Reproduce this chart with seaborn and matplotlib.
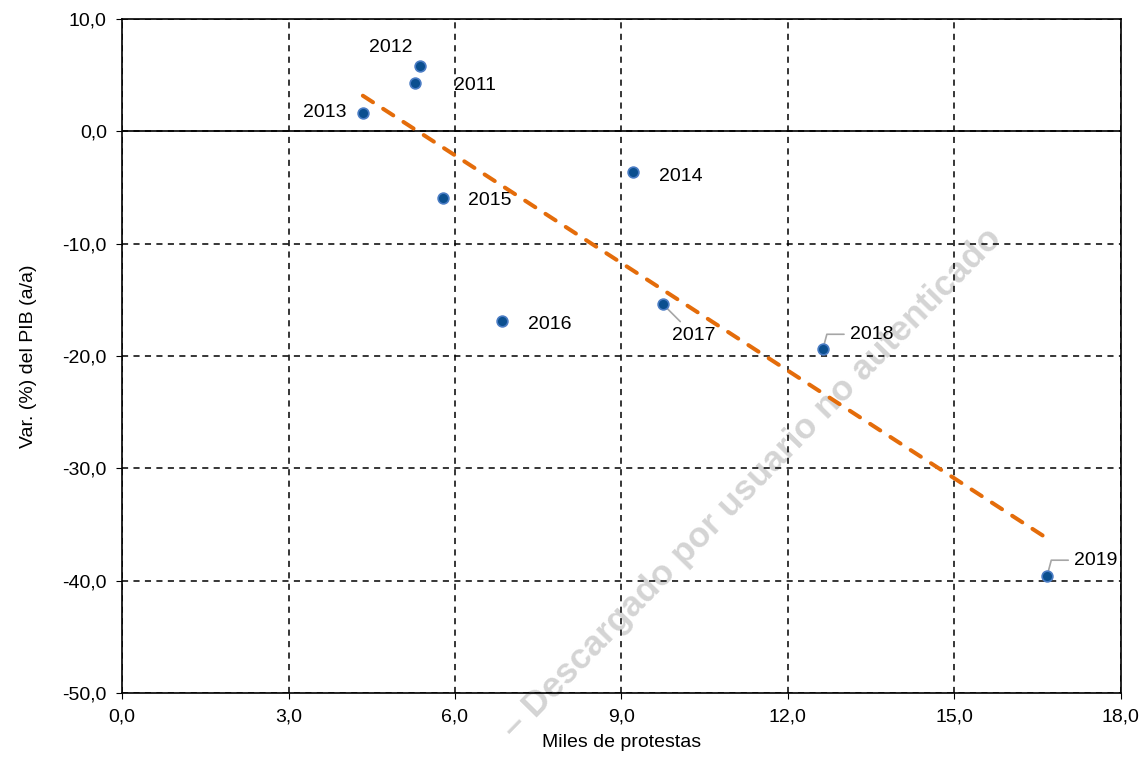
import numpy as np
import pandas as pd
import seaborn as sns
import matplotlib.pyplot as plt
from matplotlib.ticker import FuncFormatter, MultipleLocator

# datos
anios = ["2011", "2012", "2013", "2014", "2015", "2016", "2017", "2018", "2019"]
protestas = [5.28, 5.37, 4.34, 9.21, 5.78, 6.85, 9.75, 12.63, 16.67]
var_pib = [4.3, 5.8, 1.6, -3.6, -5.9, -16.9, -15.4, -19.4, -39.6]

# posicion de las etiquetas (pixeles respecto al punto)
offsets = {
    "2011": (60, -2), "2012": (-29, 19), "2013": (-38, 1), "2014": (48, -5),
    "2015": (47, -3), "2016": (48, -3), "2017": (31, -31), "2018": (49, 15),
    "2019": (49, 16),
}
con_linea = ["2017", "2018", "2019"]

dados = pd.DataFrame({"anio": anios, "protestas": protestas, "pib": var_pib})

sns.set_style("white")
plt.rcParams["font.family"] = ["Liberation Sans", "DejaVu Sans"]
plt.rcParams["text.color"] = "black"
plt.rcParams["axes.labelcolor"] = "black"
fs = 14

fig = plt.figure(figsize=(11.46, 7.57), dpi=100)
ax = fig.add_axes([0.1065, 0.0845, 0.8715, 0.8904])

# marca de agua
ax.text(0.656, 0.362, "\u2013 Descargado por usuario no autenticado",
        transform=fig.transFigure, rotation=45.7, ha="center", va="center",
        fontsize=25.5, fontweight="bold", color="#D4D4D4", zorder=1)

sns.regplot(data=dados, x="protestas", y="pib", ax=ax, scatter=False, ci=None,
            line_kws=dict(color="#E46C0A", lw=2.9, ls=(0, (3, 3)),
                          dash_capstyle="round", zorder=4))
sns.scatterplot(data=dados, x="protestas", y="pib", ax=ax, s=60,
                color="#0B4F8F", edgecolor="#4A7CC4", linewidth=1.2, zorder=5)

for a, x, y in zip(anios, protestas, var_pib):
    dx, dy = offsets[a]
    if a in con_linea:
        if a == "2017":
            cs = "arc3"
        else:
            cs = "angle,angleA=180,angleB=75,rad=0"
        ax.annotate(a, (x, y), xytext=(dx, dy), textcoords="offset pixels",
                    ha="center", va="center", fontsize=fs,
                    arrowprops=dict(arrowstyle="-", color="#A6A6A6", lw=1.2,
                                    connectionstyle=cs, shrinkA=2, shrinkB=3))
    else:
        ax.annotate(a, (x, y), xytext=(dx, dy), textcoords="offset pixels",
                    ha="center", va="center", fontsize=fs)

ax.axhline(0, color="black", lw=1.2, zorder=3)

ax.set_xlim(0, 18)
ax.set_ylim(-50, 10)
ax.xaxis.set_major_locator(MultipleLocator(3))
ax.yaxis.set_major_locator(MultipleLocator(10))
fmt = FuncFormatter(lambda v, p: f"{v:.1f}".replace(".", ","))
ax.xaxis.set_major_formatter(fmt)
ax.yaxis.set_major_formatter(fmt)
ax.set_axisbelow(False)
ax.grid(True, color="black", ls=(0, (4, 3.5)), lw=1.1, zorder=2.5)
for s in ax.spines.values():
    s.set_color("black")
    s.set_linewidth(1.2)
ax.tick_params(labelsize=fs, colors="black", length=4, direction="out",
               left=True, bottom=True, pad=7)
ax.set_xlabel("Miles de protestas", fontsize=fs, labelpad=6)
ax.set_ylabel("Var. (%) del PIB (a/a)", fontsize=fs, labelpad=18)

plt.savefig("out.png", dpi=100)
